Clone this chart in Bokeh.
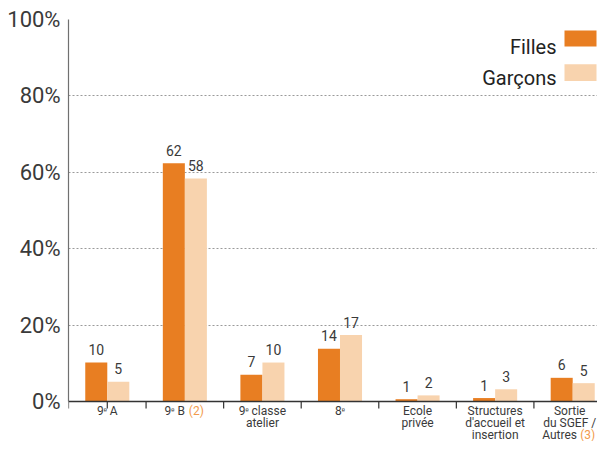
from bokeh.plotting import figure
from bokeh.models import (ColumnDataSource, FixedTicker, PrintfTickFormatter, Range1d,
                          Label, BoxAnnotation, Span)
from bokeh.transform import dodge
from bokeh.embed import file_html
from bokeh.resources import INLINE
from bokeh.core.properties import value

# ---- data ----
categories = ["9ᵉ A", "9ᵉ B", "9ᵉ classe\natelier", "8ᵉ", "Ecole\nprivée",
              "Structures\nd'accueil et\ninsertion", "Sortie\ndu SGEF /\nAutres"]
notes = ["", "(2)", "", "", "", "", "(3)"]
filles = [10.2, 62.4, 7.0, 13.8, 0.6, 0.9, 6.2]
garcons = [5.2, 58.4, 10.2, 17.4, 1.6, 3.2, 4.8]
filles_labels = ["10", "62", "7", "14", "1", "1", "6"]
garcons_labels = ["5", "58", "10", "17", "2", "3", "5"]
series_names = ["Filles", "Garçons"]
y_ticks = [0, 20, 40, 60, 80, 100]

# ---- style ----
FONT = "Roboto"
ORANGE = "#E87E22"
PEACH = "#F8D3AE"
TEXT = "#3a3a3a"
NOTE = "#F29B4C"

n = len(categories)
centers = [i + 0.5 for i in range(n)]
PAD = "\u2007\u2007\u2007"
cat_text = []
for c, note in zip(categories, notes):
    lines = c.split("\n")
    if note:
        lines[-1] += PAD
    cat_text.append("\n".join(lines))

PX_PER_UNIT = 382 / 100        # 100 units over 382 px
PX_PER_CAT = 77.57
LABEL_GAP = 13 / PX_PER_UNIT

src = ColumnDataSource(dict(x=centers, filles=filles, garcons=garcons,
                            fl=filles_labels, gl=garcons_labels,
                            fy=[v + LABEL_GAP for v in filles],
                            gy=[v + LABEL_GAP for v in garcons]))

W_PX, H_PX = 597, 441
LEFT, TOP = 68, 19
frame_w = W_PX - LEFT
frame_h = H_PX - TOP
x_end = frame_w / PX_PER_CAT
y_start = 100 - frame_h / PX_PER_UNIT

p = figure(width=W_PX, height=H_PX, x_range=Range1d(0, x_end), y_range=Range1d(y_start, 100),
           output_backend="svg", toolbar_location=None,
           min_border_left=LEFT, min_border_right=0, min_border_top=TOP, min_border_bottom=0)
p.outline_line_color = None
p.background_fill_color = "white"
p.border_fill_color = "white"

OFF = 0.142
W = 0.284
p.vbar(x=dodge("x", -OFF), top="filles", bottom=0, width=W, source=src, fill_color=ORANGE, line_color=None)
p.vbar(x=dodge("x", OFF), top="garcons", bottom=0, width=W, source=src, fill_color=PEACH, line_color=None)

for ycol, lab, dx in (("fy", "fl", -OFF), ("gy", "gl", OFF)):
    p.text(x=dodge("x", dx), y=ycol, text=lab, source=src,
           text_font=value(FONT), text_font_size="14px", text_color=TEXT,
           text_align="center", text_baseline="alphabetic")

# y axis
p.yaxis.ticker = FixedTicker(ticks=y_ticks)
p.yaxis.formatter = PrintfTickFormatter(format="%d%%")
p.yaxis.bounds = (0, 100)
p.yaxis.major_label_text_font = FONT
p.yaxis.major_label_text_font_size = "22px"
p.yaxis.major_label_text_color = TEXT
p.yaxis.major_tick_line_color = None
p.yaxis.major_tick_out = 0
p.yaxis.major_tick_in = 0
p.yaxis.minor_tick_line_color = None
p.yaxis.axis_line_color = "#707070"
p.yaxis.axis_line_width = 1.2
p.yaxis.major_label_standoff = 8

# x axis drawn inside the frame
p.xaxis.visible = False
p.xgrid.grid_line_color = None
p.ygrid.ticker = FixedTicker(ticks=y_ticks)
p.ygrid.grid_line_color = "#9a9a9a"
p.ygrid.grid_line_dash = "2 2"
p.ygrid.grid_line_width = 1

p.add_layout(Span(location=0, dimension="width", line_color="#333333", line_width=1.5))
bounds = sorted(set(list(range(n + 1)) + [0.5]))
TICK_LEN = 7 / PX_PER_UNIT
p.segment(x0=bounds, y0=[0] * len(bounds), x1=bounds, y1=[-TICK_LEN] * len(bounds),
          line_color="#333333", line_width=1.2)

CAT_FS = 12
LH = 0.88
LINE_PX = 12.6 * LH / 0.9
LAB_TOP = -2 / PX_PER_UNIT
cat_dx = [0, 0, 0, 0, 0, 0, -3]
p.text(x=centers, y=[LAB_TOP] * n, text=cat_text, x_offset=cat_dx,
       text_font=value(FONT), text_font_size=f"{CAT_FS}px", text_color=TEXT,
       text_align="center", text_baseline="top", text_line_height=LH)

note_dx = [0, 4, 0, 0, 0, 0, 10.5]
nx, ny, nt, nd = [], [], [], []
for i, (t, note) in enumerate(zip(cat_text, notes)):
    if note:
        k = t.count("\n")
        nx.append(centers[i]); ny.append(LAB_TOP - k * LINE_PX / PX_PER_UNIT)
        nt.append(note); nd.append(note_dx[i] + cat_dx[i])
p.text(x=nx, y=ny, text=nt, x_offset=nd,
       text_font=value(FONT), text_font_size=f"{CAT_FS}px", text_color=NOTE,
       text_align="left", text_baseline="top", text_line_height=LH)

# legend (text left, swatch right)
sw_left, sw_right = (564 - LEFT) / PX_PER_CAT, (596 - LEFT) / PX_PER_CAT
txt_right = (556 - LEFT) / PX_PER_CAT
leg = [(series_names[0], ORANGE, 97.1, 92.9, 92.9), (series_names[1], PEACH, 88.3, 83.9, 84.6)]
for name, colr, top, bot, base in leg:
    p.add_layout(BoxAnnotation(left=sw_left, right=sw_right, top=top, bottom=bot,
                               fill_color=colr, fill_alpha=1, line_color=None, level="overlay"))
    p.add_layout(Label(x=txt_right, y=base, text=name, text_align="right",
                       text_baseline="alphabetic",
                       text_font=FONT, text_font_size="20px", text_color="#222222"))

open("out.html", "w").write(file_html(p, INLINE))
